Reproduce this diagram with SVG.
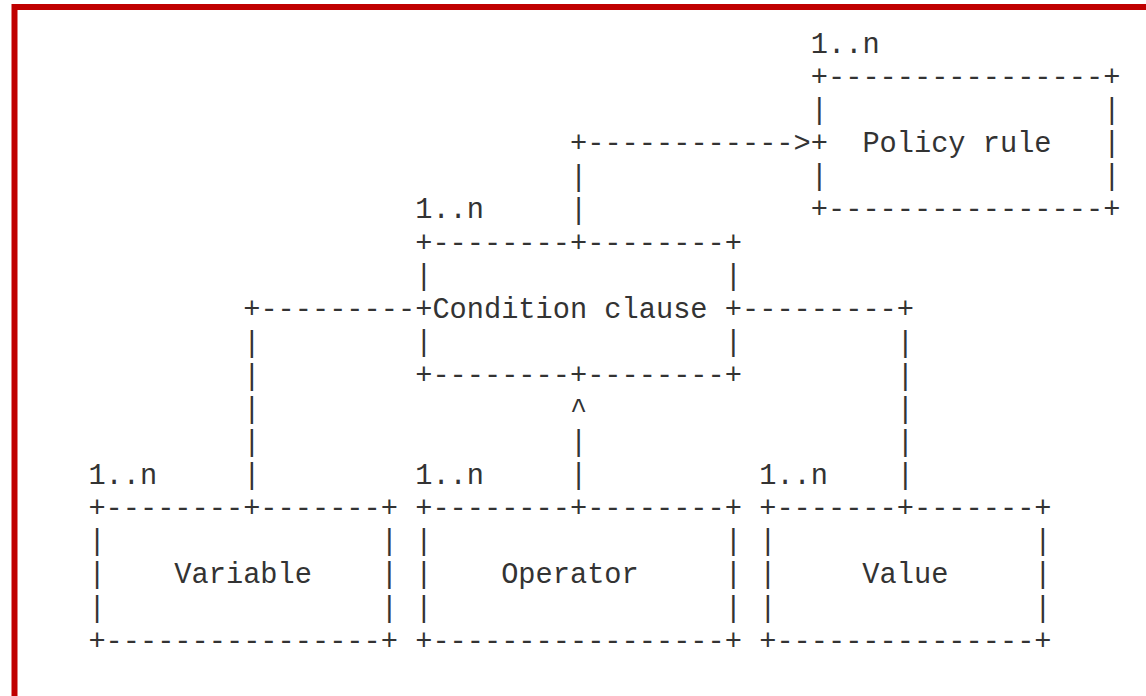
<svg xmlns="http://www.w3.org/2000/svg" width="1146" height="696" viewBox="0 0 1146 696">
<style>
text{font-family:"Liberation Mono","Courier New",monospace;font-size:28.667px;fill:#333333;white-space:pre}
</style>
<rect x="0" y="0" width="1146" height="696" fill="#ffffff"/>
<rect x="14.5" y="7" width="1200" height="760" fill="none" stroke="#c00000" stroke-width="6"/>
<g id="connectors" xml:space="preserve">
<text x="570" y="152">+------------&gt;</text>
<text x="570" y="185.7">|</text>
<text x="570" y="218.9">|</text>
<text x="243.2" y="318.4">+---------</text>
<text x="243.2" y="351.6">|</text>
<text x="243.2" y="384.7">|</text>
<text x="243.2" y="417.9">|</text>
<text x="243.2" y="451.1">|</text>
<text x="243.2" y="484.3">|</text>
<text x="742" y="318.4">---------+</text>
<text x="896.8" y="351.6">|</text>
<text x="896.8" y="384.7">|</text>
<text x="896.8" y="417.9">|</text>
<text x="896.8" y="451.1">|</text>
<text x="896.8" y="484.3">|</text>
<text x="570" y="417.9">^</text>
<text x="570" y="451.1">|</text>
<text x="570" y="484.3">|</text>
</g>
<g id="policy-rule" xml:space="preserve">
<text x="810.8" y="52.5">1..n</text>
<text x="810.8" y="85.7">+----------------+</text>
<text x="810.8" y="118.8">|                |</text>
<text x="810.8" y="152">+  Policy rule   |</text>
<text x="810.8" y="185.2">|                |</text>
<text x="810.8" y="218.4">+----------------+</text>
</g>
<g id="condition-clause" xml:space="preserve">
<text x="415.2" y="218.4">1..n</text>
<text x="415.2" y="251.5">+--------+--------+</text>
<text x="415.2" y="284.7">|                 |</text>
<text x="415.2" y="317.9">+Condition clause +</text>
<text x="415.2" y="351.1">|                 |</text>
<text x="415.2" y="384.2">+--------+--------+</text>
</g>
<g id="variable" xml:space="preserve">
<text x="88.4" y="483.8">1..n</text>
<text x="88.4" y="517">+--------+-------+</text>
<text x="88.4" y="550.2">|                |</text>
<text x="88.4" y="583.4">|    Variable    |</text>
<text x="88.4" y="616.6">|                |</text>
<text x="88.4" y="649.8">+----------------+</text>
</g>
<g id="operator" xml:space="preserve">
<text x="415.2" y="483.8">1..n</text>
<text x="415.2" y="517">+--------+--------+</text>
<text x="415.2" y="550.2">|                 |</text>
<text x="415.2" y="583.4">|    Operator     |</text>
<text x="415.2" y="616.6">|                 |</text>
<text x="415.2" y="649.8">+-----------------+</text>
</g>
<g id="value" xml:space="preserve">
<text x="759.2" y="483.8">1..n</text>
<text x="759.2" y="517">+-------+-------+</text>
<text x="759.2" y="550.2">|               |</text>
<text x="759.2" y="583.4">|     Value     |</text>
<text x="759.2" y="616.6">|               |</text>
<text x="759.2" y="649.8">+---------------+</text>
</g>
</svg>
